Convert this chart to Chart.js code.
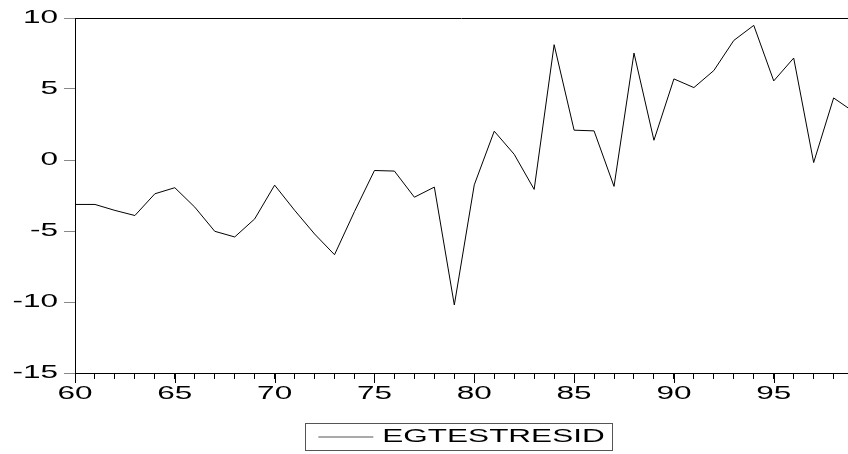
<!DOCTYPE html>
<html>
<head>
<meta charset="utf-8">
<script src="https://cdn.jsdelivr.net/npm/chart.js@4.4.1/dist/chart.umd.min.js"></script>
<style>
  html, body { margin: 0; padding: 0; background: #fff; }
  #wrap { width: 848px; height: 454px; }
</style>
</head>
<body>
<div id="wrap"><canvas id="c" width="848" height="454"></canvas></div>
<script>
// ---- data ----
const years = [60,61,62,63,64,65,66,67,68,69,70,71,72,73,74,75,76,77,78,79,
               80,81,82,83,84,85,86,87,88,89,90,91,92,93,94,95,96,97,98,99];
const egtestresid = [-3.13,-3.13,-3.55,-3.91,-2.38,-1.95,-3.32,-5.02,-5.42,-4.15,
                     -1.77,-3.54,-5.21,-6.67,-3.63,-0.74,-0.78,-2.62,-1.91,-10.21,
                     -1.75,2.03,0.40,-2.07,8.12,2.10,2.05,-1.86,7.53,1.39,
                     5.71,5.10,6.30,8.42,9.48,5.57,7.18,-0.18,4.37,3.40];
const xTickLabels = [60,65,70,75,80,85,90,95];
const xMinorTicks = [60,61,62,63,64,65,66,67,68,69,70,71,72,73,74,75,76,77,78,79,
                     80,81,82,83,84,85,86,87,88,89,90,91,92,93,94,95,96,97,98];
const yTicks = [-15,-10,-5,0,5,10];
const seriesName = 'EGTESTRESID';

// The reference text is horizontally stretched; emulate that on the canvas.
const STRETCH = 1.75;
const FONT = { family: '"Liberation Sans", Arial, sans-serif', size: 18 };

const canvas = document.getElementById('c');
const ctx0 = canvas.getContext('2d');
const origFill = ctx0.fillText.bind(ctx0);
const origMeasure = ctx0.measureText.bind(ctx0);
ctx0.fillText = function (t, x, y, maxW) {
  this.save();
  this.translate(x, y);
  this.scale(STRETCH, 1);
  origFill(t, 0, 0);
  this.restore();
};
ctx0.measureText = function (t) {
  const m = origMeasure(t);
  return {
    width: m.width * STRETCH,
    actualBoundingBoxAscent: m.actualBoundingBoxAscent,
    actualBoundingBoxDescent: m.actualBoundingBoxDescent,
    actualBoundingBoxLeft: m.actualBoundingBoxLeft * STRETCH,
    actualBoundingBoxRight: m.actualBoundingBoxRight * STRETCH
  };
};

const framePlugin = {
  id: 'frame',
  beforeDraw(chart) {
    const ctx = chart.ctx;
    ctx.save();
    ctx.fillStyle = '#fff';
    ctx.fillRect(0, 0, chart.width, chart.height);
    ctx.restore();
  },
  afterDraw(chart) {
    const { ctx, chartArea: a, scales: { x } } = chart;
    ctx.save();
    ctx.strokeStyle = '#000';
    ctx.lineWidth = 1;
    ctx.beginPath();
    ctx.moveTo(a.left, Math.round(a.top) + 0.5);
    ctx.lineTo(a.right, Math.round(a.top) + 0.5);
    // longer major ticks
    xTickLabels.forEach(v => {
      const px = Math.round(x.getPixelForValue(v)) + 0.5;
      ctx.moveTo(px, a.bottom);
      ctx.lineTo(px, a.bottom + 10);
    });
    ctx.stroke();
    // legend frame
    const hb = chart.legend && chart.legend.legendHitBoxes && chart.legend.legendHitBoxes[0];
    if (hb) {
      ctx.strokeStyle = '#555';
      ctx.strokeRect(Math.round(hb.left) - 12.5, Math.round(hb.top + hb.height / 2) - 13.5,
                     Math.round(hb.width) + 21, 27);
    }
    ctx.restore();
  }
};

new Chart(canvas, {
  type: 'line',
  data: {
    datasets: [{
      label: seriesName,
      data: years.map((yr, i) => ({ x: yr, y: egtestresid[i] })),
      borderColor: '#000',
      borderWidth: 1,
      pointRadius: 0,
      tension: 0,
      fill: false
    }]
  },
  options: {
    responsive: false,
    animation: false,
    devicePixelRatio: 1,
    layout: { padding: { top: 18, right: 0, left: 0, bottom: -2 } },
    plugins: {
      tooltip: { enabled: false },
      legend: {
        position: 'bottom',
        fullSize: false,
        labels: {
          color: '#000',
          font: FONT,
          usePointStyle: true,
          pointStyle: 'line',
          pointStyleWidth: 55,
          padding: 4,
          generateLabels(chart) {
            const items = Chart.defaults.plugins.legend.labels.generateLabels(chart);
            items.forEach(it => { it.strokeStyle = '#555'; it.lineWidth = 1; });
            return items;
          }
        }
      }
    },
    scales: {
      x: {
        type: 'linear',
        min: 60,
        max: 98.72,
        afterBuildTicks(scale) { scale.ticks = xMinorTicks.map(v => ({ value: v })); },
        afterFit(scale) { scale.height = 51; },
        ticks: {
          autoSkip: false,
          maxRotation: 0,
          color: '#000',
          font: FONT,
          padding: 4,
          callback: v => (xTickLabels.includes(v) ? String(v) : '')
        },
        grid: { drawOnChartArea: false, drawTicks: true, tickLength: 6, color: '#000' },
        border: { display: true, color: '#000', width: 1 }
      },
      y: {
        type: 'linear',
        min: -15,
        max: 10,
        afterBuildTicks(scale) { scale.ticks = yTicks.map(v => ({ value: v })); },
        afterFit(scale) { scale.width = 75; },
        ticks: { color: '#000', font: FONT, padding: 6, callback: v => String(v) },
        grid: { drawOnChartArea: false, drawTicks: true, tickLength: 11, color: '#888' },
        border: { display: true, color: '#000', width: 1 }
      }
    }
  },
  plugins: [framePlugin]
});
</script>
</body>
</html>
